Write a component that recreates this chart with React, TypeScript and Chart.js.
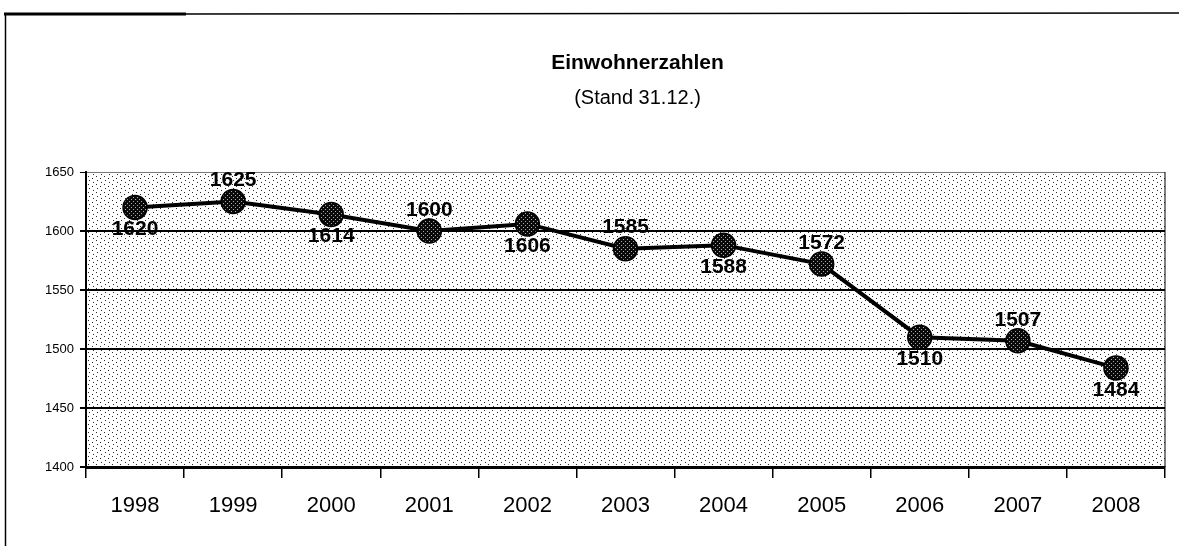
import React, { useEffect, useRef } from "react";
import { Chart, registerables } from "chart.js";

Chart.register(...registerables);

const TITLE = "Einwohnerzahlen";
const SUBTITLE = "(Stand 31.12.)";
const YEARS = ["1998", "1999", "2000", "2001", "2002", "2003", "2004", "2005", "2006", "2007", "2008"];
const POPULATION = [1620, 1625, 1614, 1600, 1606, 1585, 1588, 1572, 1510, 1507, 1484];
const Y_MIN = 1400;
const Y_MAX = 1650;
const Y_STEP = 50;

const FONT = "'Liberation Sans', Arial, sans-serif";

function makePattern(ctx: CanvasRenderingContext2D) {
  const c = document.createElement("canvas");
  c.width = 8;
  c.height = 8;
  const p = c.getContext("2d")!;
  p.fillStyle = "#ffffff";
  p.fillRect(0, 0, 8, 8);
  p.fillStyle = "#2a2a2a";
  p.fillRect(0, 0, 1, 1);
  p.fillRect(4, 2, 1, 1);
  p.fillRect(1, 4, 1, 1);
  p.fillRect(5, 6, 1, 1);
  return ctx.createPattern(c, "repeat")!;
}

function makePointPattern(ctx: CanvasRenderingContext2D) {
  const c = document.createElement("canvas");
  c.width = 4;
  c.height = 4;
  const p = c.getContext("2d")!;
  p.fillStyle = "#0a0a0a";
  p.fillRect(0, 0, 4, 4);
  p.fillStyle = "#aaaaaa";
  p.fillRect(1, 1, 1, 1);
  p.fillRect(3, 3, 1, 1);
  return ctx.createPattern(c, "repeat")!;
}

const decorPlugin = {
  id: "decor",
  beforeDraw(chart: any) {
    const { ctx, chartArea } = chart;
    ctx.save();
    ctx.fillStyle = makePattern(ctx);
    ctx.fillRect(chartArea.left, chartArea.top, chartArea.right - chartArea.left, chartArea.bottom - chartArea.top);
    // outer frame
    ctx.strokeStyle = "#000";
    ctx.lineWidth = 3;
    ctx.beginPath();
    ctx.moveTo(4, 14);
    ctx.lineTo(186, 14);
    ctx.stroke();
    ctx.lineWidth = 1.5;
    ctx.beginPath();
    ctx.moveTo(186, 14);
    ctx.lineTo(1179, 13);
    ctx.moveTo(5.5, 14);
    ctx.lineTo(5.5, 546);
    ctx.stroke();
    // titles
    const cx = (chartArea.left + chartArea.right) / 2 + 12;
    ctx.fillStyle = "#000";
    ctx.textAlign = "center";
    ctx.textBaseline = "middle";
    ctx.font = `bold 21px ${FONT}`;
    ctx.fillText(TITLE, cx, 63);
    ctx.font = `20px ${FONT}`;
    ctx.fillText(SUBTITLE, cx, 98);
    ctx.restore();
  },
  afterDatasetsDraw(chart: any) {
    const { ctx, chartArea } = chart;
    ctx.save();
    ctx.strokeStyle = "#000";
    ctx.lineWidth = 1;
    ctx.beginPath();
    ctx.moveTo(chartArea.right, chartArea.top);
    ctx.lineTo(chartArea.right, chartArea.bottom);
    ctx.stroke();
    const meta = chart.getDatasetMeta(0);
    ctx.fillStyle = "#000";
    ctx.font = `bold 21px ${FONT}`;
    ctx.textAlign = "center";
    ctx.textBaseline = "middle";
    meta.data.forEach((pt: any, i: number) => {
      const dy = i % 2 === 0 ? 22 : -21;
      ctx.fillText(String(POPULATION[i]), pt.x, pt.y + dy);
    });
    ctx.restore();
  },
};

export default function App() {
  const ref = useRef<HTMLCanvasElement | null>(null);
  useEffect(() => {
    const canvas = ref.current!;
    const ctx = canvas.getContext("2d")!;
    const chart = new Chart(ctx, {
      type: "line",
      data: {
        labels: YEARS,
        datasets: [
          {
            data: POPULATION,
            borderColor: "#000",
            borderWidth: 4,
            pointRadius: 12,
            pointBackgroundColor: makePointPattern(ctx) as any,
            pointBorderColor: "#000",
            pointBorderWidth: 1.5,
            tension: 0,
          },
        ],
      },
      options: {
        animation: false,
        responsive: false,
        layout: { padding: { left: 0, right: 14, top: 172, bottom: 0 } },
        plugins: { legend: { display: false }, tooltip: { enabled: false }, title: { display: false } },
        scales: {
          x: {
            offset: true,
            grid: { offset: true, drawOnChartArea: false, drawTicks: true, tickLength: 11, color: "#000", lineWidth: 1.5 },
            border: { display: true, color: "#000", width: 3 },
            ticks: { color: "#000", font: { family: FONT, size: 22 }, padding: 15, maxRotation: 0 },
            afterFit(scale: any) {
              scale.height = 79;
            },
          },
          y: {
            min: Y_MIN,
            max: Y_MAX,
            ticks: {
              stepSize: Y_STEP,
              color: "#000",
              font: { family: FONT, size: 13 },
              padding: 6,
              callback: (v: any) => String(v),
            },
            grid: {
              color: (c: any) => (c.tick && c.tick.value === Y_MAX ? "#777" : "#000"),
              lineWidth: (c: any) => (c.tick && c.tick.value === Y_MAX ? 1 : 2),
              tickColor: "#000",
              tickLength: 6,
            },
            border: { display: true, color: "#000", width: 2 },
            afterFit(scale: any) {
              scale.width = 86;
            },
          },
        },
      },
      plugins: [decorPlugin],
    });
    return () => chart.destroy();
  }, []);
  return (
    <div style={{ position: "fixed", left: 0, top: 0, width: 1179, height: 546, background: "#fff", overflow: "hidden" }}>
      <canvas ref={ref} width={1179} height={546} style={{ display: "block" }} />
    </div>
  );
}
